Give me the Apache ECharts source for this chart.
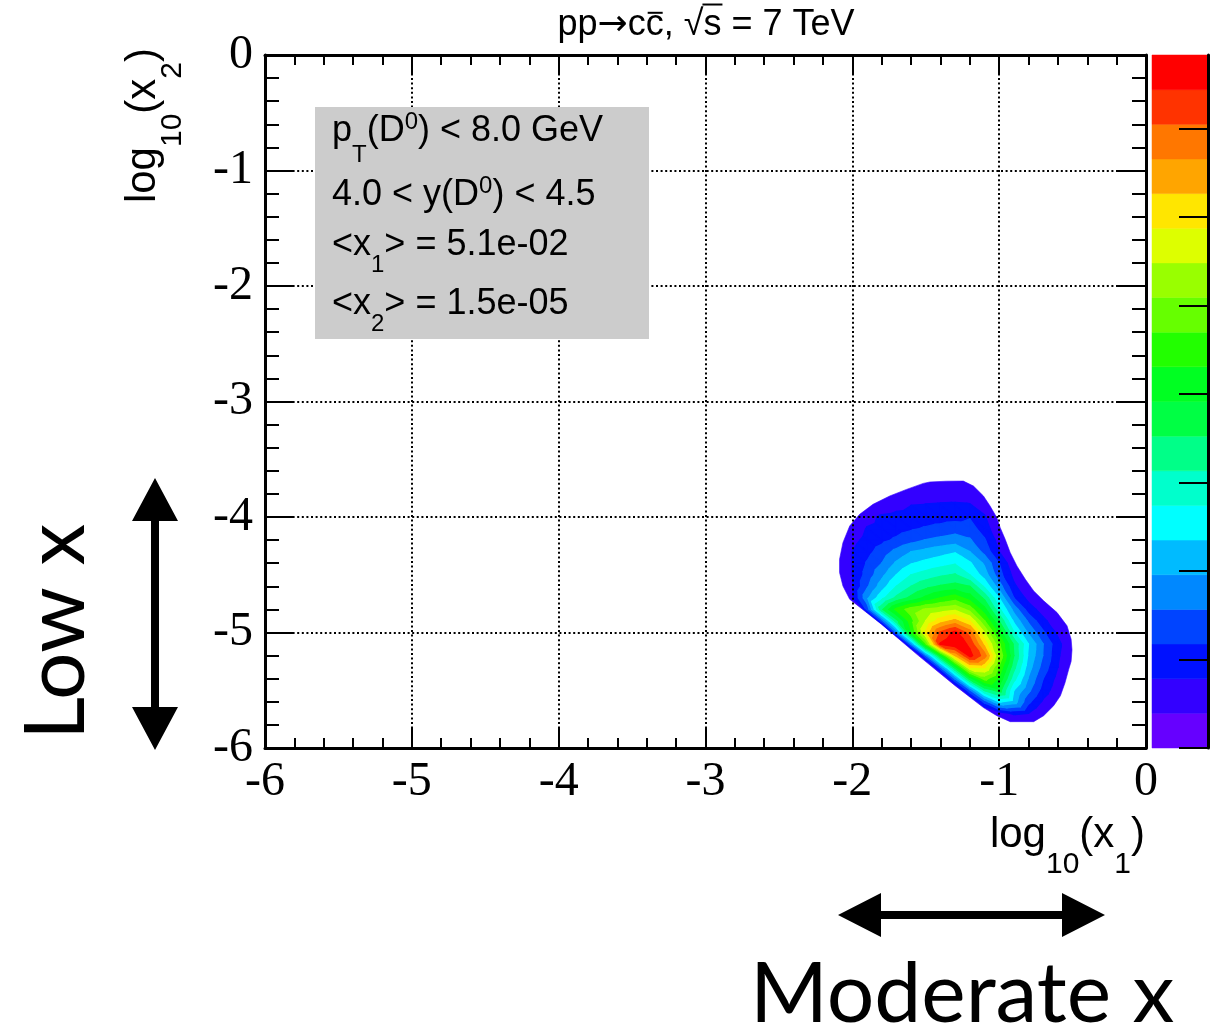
<!DOCTYPE html>
<html><head><meta charset="utf-8">
<script src="https://cdn.jsdelivr.net/npm/echarts@6/dist/echarts.min.js"></script>
<style>html,body{margin:0;padding:0;background:#fff}#chart{width:1228px;height:1035px}</style>
</head><body><div id="chart"></div>
<script>
// ---------------- data ----------------
const xTicks = [-6, -5, -4, -3, -2, -1, 0];
const xTickLabels = ['-6', '-5', '-4', '-3', '-2', '-1', '0'];
const yTicks = [-6, -5, -4, -3, -2, -1, 0];
const yTickLabels = ['-6', '-5', '-4', '-3', '-2', '-1', '0'];

// node positions (log10 x1, log10 x2) of the 2-D distribution
const gridX = [-2.2, -2.1, -2.0, -1.9, -1.8, -1.7, -1.6, -1.5, -1.4, -1.3, -1.2, -1.1, -1.0, -0.9, -0.8, -0.7, -0.6, -0.5, -0.4];
const gridY = [-3.6, -3.7, -3.8, -3.9, -4.0, -4.1, -4.2, -4.3, -4.4, -4.5, -4.6, -4.7, -4.8, -4.9, -5.0, -5.1, -5.2, -5.3, -5.4, -5.5, -5.6, -5.7, -5.8];
// values in units of contour level
const zGrid = [
  [0,0,0,0,0,0,0.2,0.4,0.45,0.45,0.4,0.1,0,0,0,0,0,0,0],
  [0,0,0,0,0,0.4,0.75,1.0,1.05,1.05,1.02,0.45,0,0,0,0,0,0,0],
  [0,0,0,0,0.5,1.05,1.3,1.5,1.6,1.6,1.45,0.9,0.3,0,0,0,0,0,0],
  [0,0,0,0.85,1.26,1.63,2.0,2.08,2.12,2.15,2.1,1.5,0.4,0,0,0,0,0,0],
  [0,0,0.35,1.6,2.2,2.35,2.45,2.5,2.55,2.65,2.92,2.12,0.85,0,0,0,0,0,0],
  [0,0.2,1.26,2.08,2.34,2.6,2.87,3.1,3.3,3.55,3.45,2.5,1.14,0,0,0,0,0,0],
  [0,0.65,1.69,2.3,2.74,3.18,3.64,4.05,4.28,4.5,4.12,3.12,1.59,0.2,0,0,0,0,0],
  [0,0.81,2.0,2.67,3.45,4.29,5.0,5.3,5.6,5.9,5.0,3.67,2.0,0.63,0,0,0,0,0],
  [0,0.85,2.0,3.09,4.0,5.15,5.92,6.28,6.59,6.9,6.15,4.83,3.0,1.17,0,0,0,0,0],
  [0,0.8,2.0,3.38,4.71,6.0,7.0,7.42,7.83,8.1,7.0,5.5,3.4,1.69,0.6,0,0,0,0],
  [0,0.5,1.93,3.83,5.5,7.0,8.0,8.67,9.12,9.35,9.0,6.8,4.5,2.2,1.13,0,0,0,0],
  [0,-1,1.8,4.75,6.67,8.21,9.26,10.23,11.0,11.5,10.5,8.75,6.0,3.0,1.67,0.83,0,0,0],
  [0,-2,-3,3.24,8.78,11.27,12.5,13.13,13.47,13.8,12.6,10.33,7.25,4.64,2.5,1.54,0.77,0,0],
  [0,0,-3,-3,3.38,8.59,11.57,14.02,15.49,16.3,15.0,12.06,9.0,5.8,3.8,2.25,1.3,0.43,0],
  [0,0,0,-3,-3,4.08,10.87,15.15,18.14,19.3,17.55,14.0,10.67,7.09,4.83,3.17,1.79,0.76,0],
  [0,0,0,0,-3,-3,4.2,11.7,19.1,19.9,18.75,15.67,12.2,8.83,6.0,4.0,2.33,0.93,0],
  [0,0,0,0,0,-3,-2.1,3.9,9.94,15.98,19.36,17.5,12.92,9.0,5.81,3.94,2.17,0.9,0],
  [0,0,0,0,0,0,-3,-1.5,3.98,9.49,15.0,15.14,11.85,8.33,5.44,3.56,2.0,0.69,0],
  [0,0,0,0,0,0,0,-3,-1.1,4.14,9.38,12.36,10.8,7.33,4.88,3.0,1.64,0.45,0],
  [0,0,0,0,0,0,0,0,-3,-0.5,3.81,8.13,9.53,6.0,4.24,2.57,1.33,0.23,0],
  [0,0,0,0,0,0,0,0,0,-3,0.04,3.35,6.08,5.54,3.23,1.81,0.85,0,0],
  [0,0,0,0,0,0,0,0,0,0,-1,0.34,1.44,2.2,2.0,0.85,0,0,0],
  [0,0,0,0,0,0,0,0,0,0,0,0,0,0.3,0.3,0,0,0,0]
];
// outermost (lowest drawn) contour
const outerContour = [
  [-1.472,-3.697],[-1.36,-3.69],[-1.244,-3.689],[-1.175,-3.732],[-1.107,-3.818],[-1.062,-3.905],
  [-1.016,-4.006],[-0.993,-4.092],[-0.959,-4.193],[-0.925,-4.308],[-0.879,-4.424],[-0.822,-4.539],
  [-0.765,-4.640],[-0.697,-4.726],[-0.606,-4.827],[-0.538,-4.942],[-0.510,-5.058],[-0.504,-5.150],
  [-0.510,-5.250],[-0.526,-5.317],[-0.552,-5.437],[-0.583,-5.548],[-0.629,-5.634],[-0.697,-5.720],
  [-0.765,-5.772],[-0.925,-5.772],[-1.016,-5.720],[-1.107,-5.650],[-1.30,-5.46],[-1.55,-5.20],
  [-1.80,-4.93],[-2.018,-4.712],[-2.064,-4.597],[-2.087,-4.481],[-2.087,-4.366],[-2.064,-4.222],
  [-2.018,-4.078],[-1.950,-3.977],[-1.859,-3.890],[-1.745,-3.818],[-1.631,-3.761],[-1.517,-3.709]
];
// palette, lowest level first (as on the colour bar, bottom to top)
const levelColors = ['#6600ff','#3300ff','#0011ff','#0044ff','#0088ff','#00bbff','#00ffff','#00ffcc','#00ff88','#00ff44',
                     '#00ff22','#22ff00','#66ff00','#99ff00','#ddff00','#ffe600','#ffa500','#ff7700','#ff3300','#ff0000'];
const colorScaleMax = 7.83;
const colorTicks = [0, 1, 2, 3, 4, 5, 6, 7];

const titleParts = ['pp', '\u2192', 'c', 'c', ', \u221a', 's', ' = 7 TeV'];
const infoLines = [
  [['p',36,0],['T',24,20],['(D',36,0],['0',24,-13],[') < 8.0 GeV',36,0]],
  [['4.0 < y(D',36,0],['0',24,-13],[') < 4.5',36,0]],
  [['<x',36,0],['1',24,16],['> = 5.1e-02',36,0]],
  [['<x',36,0],['2',24,16],['> = 1.5e-05',36,0]]
];
const xTitleParts = [['log',42,0],['10',30,25],['(x',42,0],['1',30,25],[')',42,0]];
const yTitleParts = [['log',42,0],['10',30,25],['(x',42,0],['2',30,25],[')',42,0]];

// ---------------- helpers ----------------
const SANS = '"Liberation Sans", Arial, sans-serif';
const SERIF = '"Liberation Serif", "Times New Roman", serif';
const DEJAVU = '"DejaVu Sans", sans-serif';
const LATO = 'Lato, "Open Sans", sans-serif';
const TOP_Z = 100;
const measureCtx = document.createElement('canvas').getContext('2d');
function buildText(parts, family, x, y, align, rotation, midRatio) {
  let total = 0;
  const widths = parts.map(p => { measureCtx.font = p[1] + 'px ' + (p[3] || family); const w = measureCtx.measureText(p[0]).width; total += w; return w; });
  let cx = align === 'right' ? -total : (align === 'center' ? -total / 2 : 0);
  const starts = [];
  const children = parts.map((p, k) => {
    starts.push(cx);
    const el = {type: 'text', z: TOP_Z, x: cx, y: p[2] - p[1] * midRatio,
      style: {text: p[0], font: p[1] + 'px ' + (p[3] || family), fill: '#000', align: 'left', verticalAlign: 'middle'}};
    cx += widths[k];
    return el;
  });
  return {group: {type: 'group', x: x, y: y, rotation: rotation || 0, z: TOP_Z, children: children}, starts, widths, total};
}
function clipAbove(tri, L) {
  const out = [];
  for (let k = 0; k < 3; k++) {
    const a = tri[k], b = tri[(k + 1) % 3];
    if (a[2] >= L) out.push([a[0], a[1]]);
    if ((a[2] >= L) !== (b[2] >= L)) {
      const t = (L - a[2]) / (b[2] - a[2]);
      out.push([a[0] + t * (b[0] - a[0]), a[1] + t * (b[1] - a[1])]);
    }
  }
  return out;
}

// cells of the distribution
const cellData = [];
for (let i = 0; i < gridY.length - 1; i++)
  for (let j = 0; j < gridX.length - 1; j++)
    cellData.push([(gridX[j] + gridX[j + 1]) / 2, (gridY[i] + gridY[i + 1]) / 2, i, j]);

function renderCell(params, api) {
  const i = api.value(2), j = api.value(3);
  const tl = api.coord([gridX[j], gridY[i]]), tr = api.coord([gridX[j + 1], gridY[i]]);
  const bl = api.coord([gridX[j], gridY[i + 1]]), br = api.coord([gridX[j + 1], gridY[i + 1]]);
  const vTL = [tl[0], tl[1], zGrid[i][j]], vTR = [tr[0], tr[1], zGrid[i][j + 1]];
  const vBL = [bl[0], bl[1], zGrid[i + 1][j]], vBR = [br[0], br[1], zGrid[i + 1][j + 1]];
  const tris = [[vTL, vTR, vBR], [vTL, vBR, vBL]];
  const children = [];
  tris.forEach(tri => {
    const zmax = Math.max(tri[0][2], tri[1][2], tri[2][2]);
    for (let L = 2; L < levelColors.length && L <= zmax; L++) {
      const poly = clipAbove(tri, L);
      if (poly.length >= 3) children.push({type: 'polygon', z2: L, shape: {points: poly},
        style: {fill: levelColors[L], stroke: levelColors[L], lineWidth: 1.2, lineJoin: 'round'}});
    }
  });
  return {type: 'group', children: children};
}
function renderOuter(params, api) {
  return {type: 'polygon', shape: {points: outerContour.map(p => api.coord(p))},
    style: {fill: levelColors[1], stroke: levelColors[1], lineWidth: 0.6}};
}
const barData = levelColors.map((c, k) => [0.5, (k + 0.5) * colorScaleMax / levelColors.length, k]);
function renderBar(params, api) {
  const k = api.value(2), step = colorScaleMax / levelColors.length;
  const p0 = api.coord([0, k * step]), p1 = api.coord([1, (k + 1) * step]);
  return {type: 'rect', shape: {x: p0[0], y: p1[1], width: p1[0] - p0[0], height: p0[1] - p1[1]},
    style: {fill: levelColors[k], stroke: levelColors[k], lineWidth: 0.5}};
}

// ---------------- axes ----------------
const black = '#000';
function mainAxis(pos, showLabel, labels, ticks, major, minor, isX) {
  return {
    type: 'value', gridIndex: 0, position: pos, min: -6, max: 0, interval: 1, z: 5,
    axisLine: {show: true, onZero: false, lineStyle: {color: black, width: 3}},
    axisTick: {show: true, inside: true, length: major, lineStyle: {color: black, width: 2}},
    minorTick: {show: true, splitNumber: 5, length: minor, lineStyle: {color: black, width: 2}},
    splitLine: {show: showLabel, lineStyle: {color: black, width: 2, type: [2, 2.6]}},
    axisLabel: {show: showLabel, showMinLabel: true, showMaxLabel: true, margin: isX ? 10 : 12,
      fontFamily: SERIF, fontSize: 48, color: black,
      formatter: v => labels[ticks.indexOf(Math.round(v))]}
  };
}

// ---------------- graphics ----------------
const graphics = [];
// info box
graphics.push({type: 'rect', z: 90, shape: {x: 315, y: 107, width: 334, height: 232}, style: {fill: '#cccccc'}});
const infoBaselines = [144, 208, 258, 317];
infoLines.forEach((ln, k) => graphics.push(buildText(ln, SANS, 332, infoBaselines[k], 'left', 0, 0.3465).group));
// title
const TS = 36;
const tp = buildText(titleParts.map((t, k) => k === 1 ? [t, TS, 0, DEJAVU] : [t, TS, 0]), SANS, 706, 38, 'center', 0, 0.3465);
tp.group.children.push({type: 'line', z: TOP_Z, shape: {x1: tp.starts[3] + 2, y1: -0.7 * TS, x2: tp.starts[3] + tp.widths[3] - 1, y2: -0.7 * TS}, style: {stroke: black, lineWidth: 2}});
tp.group.children.push({type: 'line', z: TOP_Z, shape: {x1: tp.starts[5] - 1, y1: -0.93 * TS, x2: tp.starts[5] + tp.widths[5] + 1, y2: -0.93 * TS}, style: {stroke: black, lineWidth: 2}});
graphics.push(tp.group);
// axis titles
graphics.push(buildText(xTitleParts, SANS, 1145, 850, 'right', 0, 0.3465).group);
graphics.push(buildText(yTitleParts, SANS, 158, 48, 'right', Math.PI / 2, 0.3465).group);
// annotations
graphics.push(buildText([['Low x', 84, 0]], LATO, 88, 740, 'left', Math.PI / 2, 0.37).group);
graphics.push(buildText([['Moderate x', 84, 0]], LATO, 750, 1026, 'left', 0, 0.37).group);
graphics.push({type: 'polygon', z: TOP_Z, shape: {points: [[155,478],[178,521],[159,521],[159,707],[178,707],[155,750],[132,707],[151,707],[151,521],[132,521]]}, style: {fill: black}});
graphics.push({type: 'polygon', z: TOP_Z, shape: {points: [[838,915],[881,893],[881,911],[1062,911],[1062,893],[1105,915],[1062,937],[1062,919],[881,919],[881,937]]}, style: {fill: black}});

// ---------------- chart ----------------
const chart = echarts.init(document.getElementById('chart'), null, {renderer: 'canvas'});
chart.setOption({
  animation: false,
  backgroundColor: '#fff',
  grid: [
    {left: 265, top: 55, width: 881, height: 693},
    {left: 1152, top: 55, width: 56, height: 693}
  ],
  xAxis: [
    mainAxis('bottom', true, xTickLabels, xTicks, 20, 10, true),
    mainAxis('top', false, xTickLabels, xTicks, 20, 10, true),
    {type: 'value', gridIndex: 1, min: 0, max: 1, show: false}
  ],
  yAxis: [
    mainAxis('left', true, yTickLabels, yTicks, 28, 14, false),
    mainAxis('right', false, yTickLabels, yTicks, 28, 14, false),
    {type: 'value', gridIndex: 1, position: 'right', min: 0, max: colorScaleMax, interval: 1, z: 5,
      axisLine: {show: true, onZero: false, lineStyle: {color: black, width: 3}},
      axisTick: {show: true, inside: true, length: 29, customValues: colorTicks, lineStyle: {color: black, width: 2}},
      axisLabel: {show: false}, splitLine: {show: false}}
  ],
  series: [
    {type: 'custom', name: 'outer', xAxisIndex: 0, yAxisIndex: 0, data: [[-1.3, -4.7]], renderItem: renderOuter, silent: true, z: 1},
    {type: 'custom', name: 'levels', xAxisIndex: 0, yAxisIndex: 0, data: cellData, renderItem: renderCell, silent: true, z: 2},
    {type: 'custom', name: 'scale', xAxisIndex: 2, yAxisIndex: 2, data: barData, renderItem: renderBar, silent: true, z: 2}
  ],
  graphic: graphics
});
</script></body></html>
